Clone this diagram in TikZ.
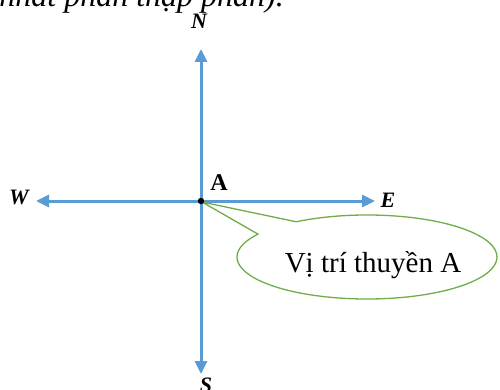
\documentclass[tikz,border=0pt]{standalone}
\usepackage{fontspec}
\setmainfont{Liberation Serif}
\usetikzlibrary{arrows.meta}
\definecolor{axisblue}{HTML}{5B9BD5}
\definecolor{callgreen}{HTML}{70AD47}
\tikzset{
  axis/.style={draw=axisblue, line width=3pt, -{Triangle[length=13pt,width=12pt]}},
  dirlabel/.style={inner sep=0pt, font=\fontsize{22}{22}\selectfont\bfseries\itshape},
  bubble/.style={draw=callgreen, line width=1.3pt, fill=white}
}
\begin{document}
\begin{tikzpicture}[x=1pt,y=-1pt]
\useasboundingbox (0,0) rectangle (500,390);
\begin{scope}
\clip (0,0) rectangle (500,390);
% cut-off line of text at the top
\node[anchor=base east, inner sep=0pt, font=\fontsize{32}{32}\selectfont\itshape] (top) at (284,7) {nhất phần thập phân).};
% direction labels
\node[dirlabel] (N) at (199,21) {N};
\node[dirlabel] (S) at (206,385) {S};
\node[dirlabel] (W) at (19,197) {W};
\node[dirlabel] (E) at (388,200) {E};
\end{scope}
% compass points
\coordinate (O) at (201,201);
\coordinate (tN) at (201,49);
\coordinate (tS) at (201,374);
\coordinate (tW) at (36,201);
\coordinate (tE) at (375,201);
\draw[axis] (O) -- (tN);
\draw[axis] (O) -- (tS);
\draw[axis] (O) -- (tW);
\draw[axis] (O) -- (tE);
% callout
\coordinate (C) at (367,257);
\coordinate (tip) at (202,202);
\path[bubble] (tip) -- ([shift={(237:130 and 42)}]C) arc[start angle=237, end angle=573, x radius=130, y radius=42] -- cycle;
\node[anchor=base, inner sep=0pt, font=\fontsize{29}{31}\selectfont] (T) at (373,272) {Vị trí thuyền A};
% point A
\fill (O) circle (3.2);
\node[inner sep=0pt, font=\fontsize{24}{24}\selectfont\bfseries] (A) at (219,183) {A};
\end{tikzpicture}
\end{document}
